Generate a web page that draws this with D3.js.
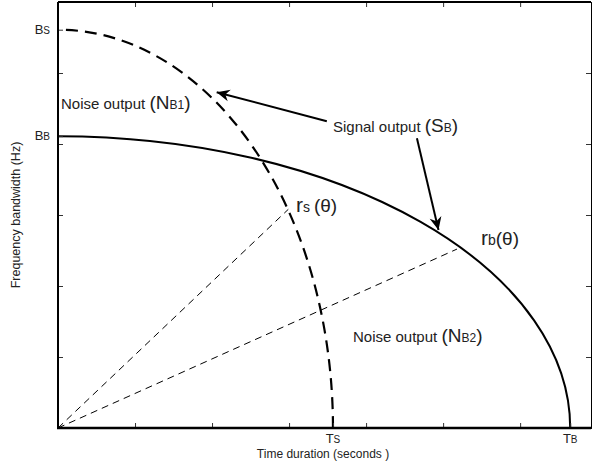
<!DOCTYPE html>
<html>
<head>
<meta charset="utf-8">
<script src="https://cdnjs.cloudflare.com/ajax/libs/d3/7.8.5/d3.min.js"></script>
<style>
  body { margin: 0; background: #fff; }
  text { font-family: "Liberation Sans", Arial, sans-serif; fill: #222; }
</style>
</head>
<body>
<div id="svg-holder"></div>
<script>
// values (axis units: one tick = 1)
const xTicks = [0, 1, 2, 3, 4, 5, 6];
const yTicks = [0, 1, 2, 3, 4, 5, 6];
const xMax = 6.92, yMax = 6;

// signal ellipse (dashed) and bandwidth ellipse (solid)
const Ts = 3.57, Bs = 5.61;
const Tb = 6.65, Bb = 4.11;
const xLabels = [{ v: Ts, main: "T", sub: "S" }, { v: Tb, main: "T", sub: "B" }];
const yLabels = [{ v: Bs, main: "B", sub: "S" }, { v: Bb, main: "B", sub: "B" }];

// radial dashed lines from origin to each curve
const rays = [[2.99, 3.08], [5.18, 2.52]];
// arrows: [from, to]
const arrows = [[[3.49, 4.32], [2.06, 4.73]], [[4.66, 4.08], [4.94, 2.79]]];

let svg = d3.select("#svg-holder").append("svg");
svg.attr("width", 594)
  .attr("height", 474);

const x = d3.scaleLinear().domain([0, xMax]).range([58, 591]);
const y = d3.scaleLinear().domain([0, yMax]).range([428, 2]);

svg.append("defs").append("marker")
  .attr("id", "head")
  .attr("viewBox", "-14 -7 16 14")
  .attr("refX", 0).attr("refY", 0)
  .attr("markerWidth", 16).attr("markerHeight", 14)
  .attr("markerUnits", "userSpaceOnUse")
  .attr("orient", "auto")
  .append("path")
  .attr("d", "M0,0 L-13,-6 L-9,0 L-13,6 Z")
  .attr("fill", "#000");

svg.append("clipPath").attr("id", "plot")
  .append("rect")
  .attr("x", x(0)).attr("y", y(yMax))
  .attr("width", x(xMax) - x(0)).attr("height", y(0) - y(yMax));

const g = svg.append("g").attr("clip-path", "url(#plot)");

// rays
rays.forEach(r => {
  g.append("line")
    .attr("x1", x(0)).attr("y1", y(0))
    .attr("x2", x(r[0])).attr("y2", y(r[1]))
    .attr("stroke", "#000")
    .attr("stroke-width", 1)
    .attr("stroke-dasharray", "7,5");
});

// quarter ellipses
function quarter(T, B) {
  const rx = x(T) - x(0), ry = y(0) - y(B);
  return `M${x(T)},${y(0)} A${rx},${ry} 0 0 0 ${x(0)},${y(B)}`;
}
g.append("path")
  .attr("d", quarter(Tb, Bb))
  .attr("fill", "none")
  .attr("stroke", "#000")
  .attr("stroke-width", 2);
g.append("path")
  .attr("d", quarter(Ts, Bs))
  .attr("fill", "none")
  .attr("stroke", "#000")
  .attr("stroke-width", 2.2)
  .attr("stroke-dasharray", "12,7");

// arrows
arrows.forEach(a => {
  svg.append("line")
    .attr("x1", x(a[0][0])).attr("y1", y(a[0][1]))
    .attr("x2", x(a[1][0])).attr("y2", y(a[1][1]))
    .attr("stroke", "#000")
    .attr("stroke-width", 2)
    .attr("marker-end", "url(#head)");
});

// axes (ticks inside, box)
const tickLen = 5;
svg.append("g").attr("transform", `translate(0,${y(0)})`)
  .call(d3.axisBottom(x).tickValues(xTicks.concat([Ts, Tb])).tickSize(-tickLen).tickFormat(""));
svg.append("g").attr("transform", `translate(0,${y(yMax)})`)
  .call(d3.axisTop(x).tickValues(xTicks).tickSize(-tickLen).tickFormat(""));
svg.append("g").attr("transform", `translate(${x(0)},0)`)
  .call(d3.axisLeft(y).tickValues(yTicks.concat([Bs, Bb])).tickSize(-tickLen).tickFormat(""));
svg.append("g").attr("transform", `translate(${x(xMax)},0)`)
  .call(d3.axisRight(y).tickValues(yTicks).tickSize(-tickLen).tickFormat(""));
svg.selectAll(".domain").attr("stroke", "#000").attr("stroke-width", 1);
svg.selectAll(".tick line").attr("stroke", "#333");
svg.append("line").attr("x1", x(0) - 1).attr("x2", x(xMax))
  .attr("y1", y(0)).attr("y2", y(0)).attr("stroke", "#000").attr("stroke-width", 2.5);
svg.append("line").attr("x1", x(0)).attr("x2", x(0))
  .attr("y1", y(yMax)).attr("y2", y(0)).attr("stroke", "#000").attr("stroke-width", 2);
svg.append("line").attr("x1", x(0)).attr("x2", x(xMax))
  .attr("y1", y(yMax)).attr("y2", y(yMax)).attr("stroke", "#000").attr("stroke-width", 2);

// labelled ticks
xLabels.forEach(l => {
  const t = svg.append("text")
    .attr("x", x(l.v)).attr("y", y(0) + 15)
    .attr("text-anchor", "middle").attr("font-size", 13);
  t.append("tspan").text(l.main);
  t.append("tspan").attr("font-size", 10).text(l.sub);
});
yLabels.forEach(l => {
  const t = svg.append("text")
    .attr("x", x(0) - 8).attr("y", y(l.v) + 4)
    .attr("text-anchor", "end").attr("font-size", 13);
  t.append("tspan").text(l.main);
  t.append("tspan").attr("font-size", 10).text(l.sub);
});

svg.append("text")
  .attr("x", 323).attr("y", 458)
  .attr("text-anchor", "middle").attr("font-size", 12)
  .text("Time duration (seconds )");
svg.append("text")
  .attr("transform", `translate(20,${y(3)}) rotate(-90)`)
  .attr("text-anchor", "middle").attr("font-size", 12.5)
  .text("Frequency bandwidth (Hz)");

// in-plot labels
function label(px, py, words, main, sub) {
  const t = svg.append("text").attr("x", px).attr("y", py).attr("font-size", 15);
  t.append("tspan").text(words);
  t.append("tspan").attr("font-size", 19).text("(" + main);
  t.append("tspan").attr("font-size", 12).text(sub);
  t.append("tspan").attr("font-size", 19).text(")");
}
label(61, 109, "Noise output ", "N", "B1");
label(333, 132, "Signal output ", "S", "B");
label(353, 342, "Noise output ", "N", "B2");

const rs = svg.append("text").attr("x", 296).attr("y", 212).attr("font-size", 21);
rs.append("tspan").text("r");
rs.append("tspan").attr("font-size", 14).text("s ");
rs.append("tspan").attr("font-size", 19).text("(θ)");
const rb = svg.append("text").attr("x", 481).attr("y", 245).attr("font-size", 21);
rb.append("tspan").text("r");
rb.append("tspan").attr("font-size", 14).text("b");
rb.append("tspan").attr("font-size", 19).text("(θ)");
</script>
</body>
</html>
